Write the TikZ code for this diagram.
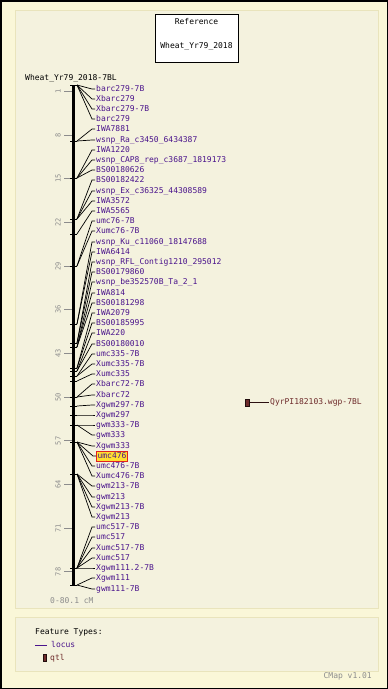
\documentclass[tikz,border=0pt]{standalone}
\usepackage{fontspec}
\newfontfamily\pixfont{DejaVu Sans Mono}
\definecolor{outerbg}{HTML}{FAF7D8}
\definecolor{panelbg}{HTML}{F4F2DE}
\definecolor{panelbd}{HTML}{E9E4BC}
\definecolor{locus}{HTML}{4A148C}
\definecolor{qtlc}{HTML}{6E2B2B}
\definecolor{tickgray}{HTML}{8C8C8C}
\definecolor{hlfill}{HTML}{FFE030}
\definecolor{hlline}{HTML}{E02020}
\begin{document}
\begin{tikzpicture}[x=1pt,y=-1pt,
  txt/.style={font=\pixfont\fontsize{8pt}{9pt}\selectfont, inner sep=0pt, text height=6pt, text depth=1.5pt},
  lab/.style={txt, text=locus, anchor=west},
  ticklab/.style={font=\pixfont\fontsize{7pt}{7pt}\selectfont, text=tickgray, inner sep=0pt, rotate=90},
  panel/.style={fill=panelbg, draw=panelbd, line width=1pt},
  conn/.style={line width=0.7pt, black},
  mtick/.style={line width=0.9pt, black}]
\useasboundingbox (0,0) rectangle (388,689);
\fill[outerbg] (0,0) rectangle (388,689);
\draw[line width=1.5pt] (0.75,0.75) rectangle (387.25,688.25);
% panels
\draw[panel] (15,10) rectangle (378,608);
\draw[panel] (15,617) rectangle (378,671);
% reference box
\node[draw=black, fill=white, line width=0.8pt, minimum width=83pt, minimum height=48pt, inner sep=0pt] (refbox) at (196.5,38) {};
\node[txt] (reft) at (196.5,22) {Reference};
\node[txt] (refn) at (196.5,46) {Wheat\_Yr79\_2018};
% map title
\node[txt, anchor=west] (maptitle) at (25,78) {Wheat\_Yr79\_2018-7BL};
% chromosome bar
\coordinate (bartop) at (73.5,85);
\coordinate (barbot) at (73.5,585);
\draw[line width=2.4pt] (bartop) -- (barbot);
% scale ticks
\foreach \c in {1,8,15,22,29,36,43,50,57,64,71,78}{
  \pgfmathsetmacro\yy{85+\c*6.242}
  \draw[tickgray, line width=0.8pt] (64,\yy) -- (72,\yy);
  \node[ticklab] (t\c) at (58,\yy) {\c};
}
% marker ticks
\foreach \m in {85,141,178,219,234,266,324,343,347,368,371,376,381,397,406,415,425,442,474,568,585}{
  \draw[mtick] (70,\m) -- (77,\m);
}
% labels and connectors
\foreach \i/\ly/\my/\t in {
 1/89/85/barc279-7B, 2/99/85/Xbarc279, 3/109/85/Xbarc279-7B, 4/119/85/barc279,
 5/129/141/IWA7881, 6/140/141/wsnp\_Ra\_c3450\_6434387,
 7/150/178/IWA1220, 8/160/178/wsnp\_CAP8\_rep\_c3687\_1819173, 9/170/178/BS00180626,
 10/180/219/BS00182422, 11/191/219/wsnp\_Ex\_c36325\_44308589, 12/201/219/IWA3572,
 13/211/234/IWA5565, 14/221/266/umc76-7B, 15/231/266/Xumc76-7B,
 16/242/324/wsnp\_Ku\_c11060\_18147688, 17/252/324/IWA6414,
 18/262/343/wsnp\_RFL\_Contig1210\_295012, 19/272/343/BS00179860,
 20/282/347/wsnp\_be352570B\_Ta\_2\_1, 21/293/347/IWA814, 22/303/347/BS00181298,
 23/313/368/IWA2079, 24/323/368/BS00185995, 25/333/371/IWA220, 26/344/371/BS00180010,
 27/354/376/umc335-7B, 28/364/376/Xumc335-7B, 29/374/381/Xumc335,
 30/384/397/Xbarc72-7B, 31/395/397/Xbarc72, 32/405/406/Xgwm297-7B, 33/415/415/Xgwm297,
 34/425/425/gwm333-7B, 35/435/425/gwm333, 36/446/442/Xgwm333,
 38/466/442/umc476-7B, 39/476/442/Xumc476-7B,
 40/486/474/gwm213-7B, 41/497/474/gwm213, 42/507/474/Xgwm213-7B, 43/517/474/Xgwm213,
 44/527/568/umc517-7B, 45/537/568/umc517, 46/548/568/Xumc517-7B, 47/558/568/Xumc517,
 48/568/568/Xgwm111.2-7B, 49/578/585/Xgwm111, 50/589/585/gwm111-7B}{
  \coordinate (m\i) at (77,\my);
  \node[lab] (l\i) at (96,\ly) {\t};
  \draw[conn] (m\i) -- ([xshift=-4pt]l\i.west) -- ([xshift=-1pt]l\i.west);
}
% highlighted marker
\coordinate (m37) at (77,442);
\node[lab, fill=hlfill, draw=hlline, line width=0.8pt, inner sep=1.2pt] (l37) at (96,456) {umc476};
\draw[conn] (m37) -- ([xshift=-3pt]l37.west) -- (l37.west);
% QTL
\node[fill=qtlc, draw=black!70!qtlc, line width=0.6pt, minimum width=3.5pt, minimum height=7pt, inner sep=0pt] (qtl) at (247.5,402.5) {};
\node[txt, text=qtlc, anchor=west] (qtllab) at (270,402.5) {QyrPI182103.wgp-7BL};
\draw[line width=0.8pt, black!60!qtlc] (qtl.east) -- ([xshift=-1pt]qtllab.west);
% scale text
\node[txt, text=tickgray, anchor=west] (scale) at (50,601) {0-80.1 cM};
% legend
\node[txt, anchor=west] (ftitle) at (35,632) {Feature Types:};
\coordinate (lg1) at (35,645);
\node[txt, text=locus, anchor=west] (lglocus) at (51,645) {locus};
\draw[locus, line width=0.8pt] (lg1) -- ([xshift=-4pt]lglocus.west);
\node[fill=qtlc, draw=black!70!qtlc, line width=0.6pt, minimum width=3pt, minimum height=7pt, inner sep=0pt] (lgq) at (44.5,658) {};
\node[txt, text=qtlc, anchor=west] (lgqtl) at (50,658) {qtl};
% footer
\node[txt, text=tickgray, anchor=east] (cmap) at (372,676) {CMap v1.01};
\end{tikzpicture}
\end{document}
